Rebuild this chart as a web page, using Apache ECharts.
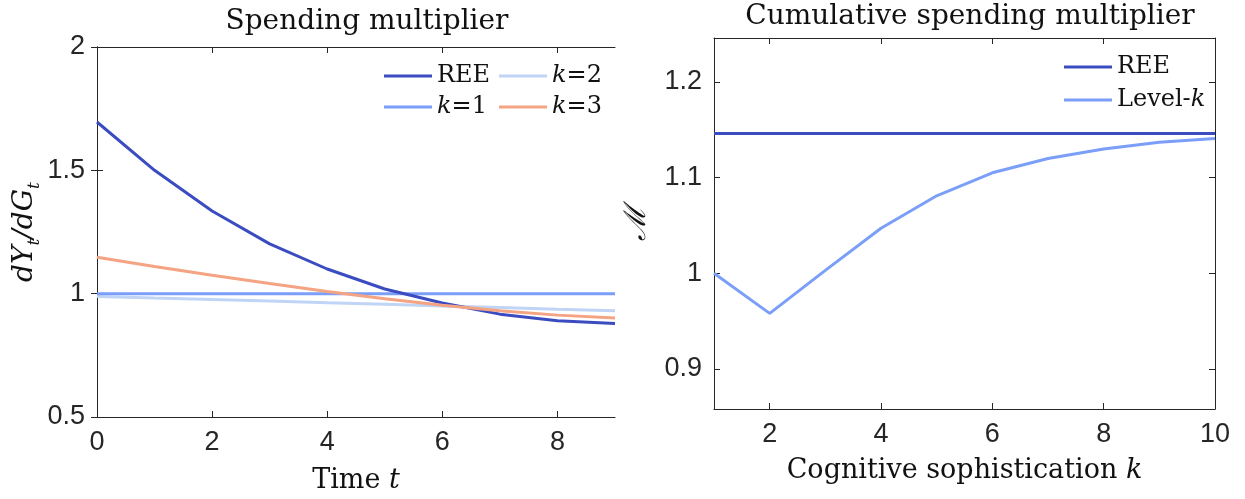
<!DOCTYPE html>
<html>
<head>
<meta charset="utf-8">
<script src="https://cdn.jsdelivr.net/npm/echarts@6/dist/echarts.min.js"></script>
<style>
  html, body { margin: 0; padding: 0; background: #fff; }
  #main { width: 1245px; height: 499px; }
</style>
</head>
<body>
<div id="main"></div>
<script>
// left panel: spending multiplier over time
const timeSteps = [0, 1, 2, 3, 4, 5, 6, 7, 8, 9];
const reeSeries = [1.696, 1.500, 1.335, 1.202, 1.100, 1.019, 0.962, 0.917, 0.890, 0.879];
const level1Series = [1.0, 1.0, 1.0, 1.0, 1.0, 1.0, 1.0, 1.0, 1.0, 1.0];
const level2Series = [0.989, 0.982, 0.976, 0.970, 0.963, 0.957, 0.950, 0.944, 0.937, 0.931];
const level3Series = [1.148, 1.110, 1.075, 1.041, 1.009, 0.979, 0.953, 0.931, 0.913, 0.901];

// right panel: cumulative multiplier by cognitive level
const kLevels = [1, 2, 3, 4, 5, 6, 7, 8, 9, 10];
const cumREE = [1.146, 1.146, 1.146, 1.146, 1.146, 1.146, 1.146, 1.146, 1.146, 1.146];
const cumLevelK = [1.000, 0.958, 1.003, 1.047, 1.081, 1.105, 1.120, 1.130, 1.137, 1.141];

const leftXTicks = [0, 2, 4, 6, 8];
const rightXTicks = [2, 4, 6, 8, 10];
const rightYTicks = [0.9, 1, 1.1, 1.2];

const AXIS = '#262626';
const SERIF = '"DejaVu Serif", "Liberation Serif", serif';
const SANS = '"Liberation Sans", Arial, sans-serif';

const pairs = (xs, ys) => xs.map((x, i) => [x, ys[i]]);

function ticks(custom) {
    const t = { show: true, inside: true, length: 6, lineStyle: { color: AXIS } };
    if (custom) t.customValues = custom;
    return t;
}

function frameAxis(extra) {
    return Object.assign({
        type: 'value',
        axisLine: { show: true, lineStyle: { color: AXIS, width: 1 } },
        axisTick: ticks(),
        axisLabel: { show: false },
        splitLine: { show: false }
    }, extra);
}

const tickLabel = { show: true, color: '#262626', fontFamily: SANS, fontSize: 27, margin: 12 };

function lineSeries(name, data, color, xi, yi, z) {
    return {
        name: name,
        type: 'line',
        xAxisIndex: xi,
        yAxisIndex: yi,
        data: data,
        symbol: 'none',
        z: z,
        lineStyle: { color: color, width: 3 },
        itemStyle: { color: color },
        animation: false
    };
}

const legendText = {
    fontFamily: SERIF,
    fontSize: 24,
    lineHeight: 24,
    color: '#111',
    rich: {
        it: { fontFamily: SERIF, fontStyle: 'italic', fontSize: 24, lineHeight: 24, color: '#111' },
        n: { fontFamily: SERIF, fontSize: 24, lineHeight: 24, color: '#111' }
    }
};

function legendFmt(name) {
    if (name.indexOf('k=') === 0) return '{it|k}{n|' + name.slice(1) + '}';
    if (name.trim() === 'Level-k') return '{n|Level-}{it|k}';
    return '{n|' + name.trim() + '}';
}

function makeLegend(data, left, top, gap) {
    return {
        data: data,
        orient: 'vertical',
        left: left,
        top: top,
        icon: 'rect',
        itemWidth: 48,
        itemHeight: 3,
        itemGap: gap,
        padding: 0,
        textStyle: legendText,
        formatter: legendFmt,
        selectedMode: false
    };
}

const chart = echarts.init(document.getElementById('main'), null, { renderer: 'canvas' });

const nameRich = {
    n: { fontFamily: SERIF, fontSize: 27, color: '#111' },
    it: { fontFamily: SERIF, fontStyle: 'italic', fontSize: 27, color: '#111' }
};

const option = {
    animation: false,
    backgroundColor: '#fff',
    title: [
        { text: 'Spending multiplier', left: 362, top: 3, textAlign: 'center',
          textStyle: { fontFamily: SERIF, fontWeight: 'normal', fontSize: 28, color: '#111' } },
        { text: 'Cumulative spending multiplier', left: 965, top: -2, textAlign: 'center',
          textStyle: { fontFamily: SERIF, fontWeight: 'normal', fontSize: 28, color: '#111' } }
    ],
    legend: [
        makeLegend(['REE', 'k=1'], 384, 64, 7),
        makeLegend(['k=2', 'k=3'], 499, 64, 7),
        makeLegend(['REE ', 'Level-k'], 1064, 55, 9)
    ],
    grid: [
        { left: 97, top: 47, width: 518, height: 370, containLabel: false },
        { left: 714, top: 38, width: 501, height: 371, containLabel: false }
    ],
    xAxis: [
        frameAxis({
            gridIndex: 0, position: 'bottom', min: 0, max: 9,
            axisTick: ticks(leftXTicks),
            axisLabel: Object.assign({}, tickLabel, { customValues: leftXTicks }),
            name: '{n|Time }{it|t}', nameLocation: 'middle', nameGap: 50,
            nameTextStyle: { rich: nameRich }
        }),
        frameAxis({ gridIndex: 0, position: 'top', min: 0, max: 9, axisTick: ticks(leftXTicks) }),
        frameAxis({
            gridIndex: 1, position: 'bottom', min: 1, max: 10,
            axisTick: ticks(rightXTicks),
            axisLabel: Object.assign({}, tickLabel, { customValues: rightXTicks }),
            name: '{n|Cognitive sophistication }{it|k}', nameLocation: 'middle', nameGap: 48,
            nameTextStyle: { rich: nameRich }
        }),
        frameAxis({ gridIndex: 1, position: 'top', min: 1, max: 10, axisTick: ticks(rightXTicks) })
    ],
    yAxis: [
        frameAxis({
            gridIndex: 0, position: 'left', min: 0.5, max: 2, interval: 0.5,
            axisLabel: Object.assign({}, tickLabel, { formatter: v => String(v) }),
            name: '{i|dY}{s|t}{i|/dG}{s|t}', nameLocation: 'middle', nameRotate: 90, nameGap: 54,
            nameTextStyle: {
                rich: {
                    i: { fontFamily: SERIF, fontStyle: 'italic', fontSize: 28, color: '#111', lineHeight: 36, verticalAlign: 'middle' },
                    s: { fontFamily: SERIF, fontStyle: 'italic', fontSize: 17, color: '#111', lineHeight: 36, verticalAlign: 'bottom' }
                }
            }
        }),
        frameAxis({ gridIndex: 0, position: 'right', min: 0.5, max: 2, interval: 0.5 }),
        frameAxis({
            gridIndex: 1, position: 'left', min: 0.858, max: 1.246,
            axisTick: ticks(rightYTicks),
            axisLabel: Object.assign({}, tickLabel, { customValues: rightYTicks, formatter: v => String(Math.round(v * 10) / 10) }),
            name: '\u2133', nameLocation: 'middle', nameRotate: 90, nameGap: 62,
            nameTextStyle: { fontFamily: SERIF, fontStyle: 'italic', fontSize: 30, color: '#111' }
        }),
        frameAxis({ gridIndex: 1, position: 'right', min: 0.858, max: 1.246, axisTick: ticks(rightYTicks) })
    ],
    series: [
        lineSeries('REE', pairs(timeSteps, reeSeries), '#3b4cc0', 0, 0, 5),
        lineSeries('k=1', pairs(timeSteps, level1Series), '#7b9ff9', 0, 0, 4),
        lineSeries('k=2', pairs(timeSteps, level2Series), '#c0d4f5', 0, 0, 3),
        lineSeries('k=3', pairs(timeSteps, level3Series), '#f4a383', 0, 0, 6),
        lineSeries('REE ', pairs(kLevels, cumREE), '#3b4cc0', 2, 2, 5),
        lineSeries('Level-k', pairs(kLevels, cumLevelK), '#7b9ff9', 2, 2, 4)
    ]
};

chart.setOption(option);
</script>
</body>
</html>
